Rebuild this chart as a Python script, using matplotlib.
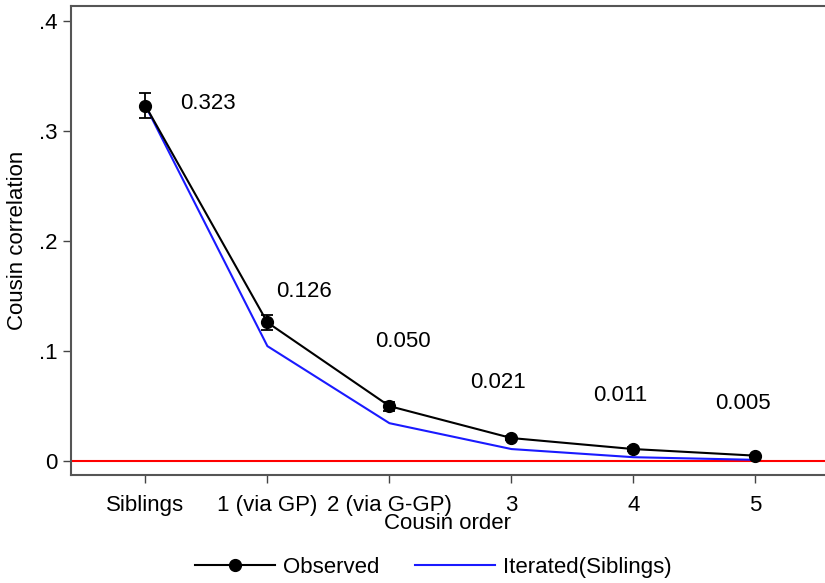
import numpy as np
import matplotlib.pyplot as plt
from matplotlib.lines import Line2D

plt.rcParams['font.family'] = ['Liberation Sans', 'DejaVu Sans']

categories = ["Siblings", "1 (via GP)", "2 (via G-GP)", "3", "4", "5"]
observed = [0.323, 0.126, 0.050, 0.021, 0.011, 0.005]
observed_err = [0.0115, 0.007, 0.004, 0.002, 0.0015, 0.001]
iterated = [0.323, 0.1045, 0.0345, 0.011, 0.0036, 0.0012]
value_labels = ["0.323", "0.126", "0.050", "0.021", "0.011", "0.005"]

# label offsets (data units) relative to each point
label_dx = [0.51, 0.30, 0.11, -0.11, -0.11, -0.10]
label_dy = [0.0015, 0.0285, 0.059, 0.050, 0.049, 0.047]

x = np.arange(len(categories))

fig = plt.figure(figsize=(8.25, 5.83), dpi=100)
ax = fig.add_axes([0.086, 0.185, 0.914, 0.805])

ax.axhline(0, color='red', lw=1.5, zorder=1)
ax.plot(x, iterated, color='#1a1aff', lw=1.5, zorder=2)
ax.errorbar(x, observed, yerr=observed_err, color='black', lw=1.5, marker='o',
            markersize=8.5, capsize=4, elinewidth=1.3, capthick=1.3, zorder=3)

for i in range(len(x)):
    ax.text(x[i] + label_dx[i], observed[i] + label_dy[i], value_labels[i],
            ha='center', va='center', fontsize=16)

ax.set_xlim(-0.61, 5.57)
ax.set_ylim(-0.0127, 0.4136)
ax.set_xticks(x)
ax.set_xticklabels(categories)
ax.set_yticks([0, 0.1, 0.2, 0.3, 0.4])
ax.set_yticklabels(["0", ".1", ".2", ".3", ".4"])
ax.tick_params(axis='both', labelsize=16, length=6, width=1, color='#444444')
ax.tick_params(axis='x', pad=8)
ax.set_xlabel("Cousin order", fontsize=16, labelpad=-2)
ax.set_ylabel("Cousin correlation", fontsize=16, labelpad=8)

for s in ['left', 'top', 'bottom']:
    ax.spines[s].set_color('#555555')
    ax.spines[s].set_linewidth(1.5)
ax.spines['right'].set_visible(False)

handles = [Line2D([], [], color='black', lw=1.5, marker='o', markersize=8.5),
           Line2D([], [], color='#1a1aff', lw=1.5)]
fig.legend(handles, ['Observed', 'Iterated(Siblings)'], loc='center',
           bbox_to_anchor=(0.525, 0.027), ncol=2, frameon=False, fontsize=16,
           handlelength=3.6, columnspacing=1.6, handletextpad=0.35)

fig.savefig("out.png", dpi=100)
